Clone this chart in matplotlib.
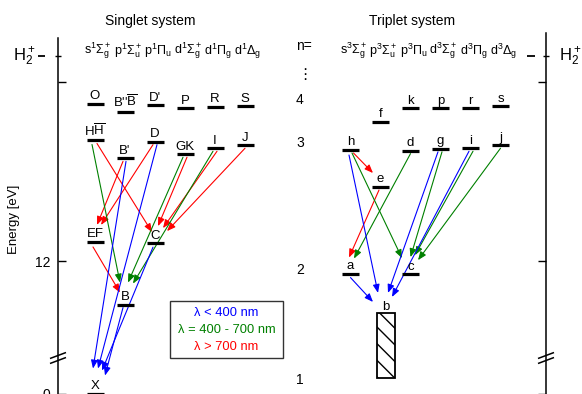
import numpy as np
import matplotlib
matplotlib.use("Agg")
import matplotlib.pyplot as plt
from matplotlib.patches import Rectangle
from matplotlib.transforms import IdentityTransform
from matplotlib.ticker import NullFormatter

plt.rcParams['font.family'] = ['Liberation Sans', 'DejaVu Sans']
plt.rcParams['mathtext.fontset'] = 'custom'
plt.rcParams['mathtext.rm'] = 'Liberation Sans'
plt.rcParams['mathtext.it'] = 'Liberation Sans:italic'
plt.rcParams['mathtext.bf'] = 'Liberation Sans:bold'
plt.rcParams['mathtext.sf'] = 'Liberation Sans'
plt.rcParams['mathtext.default'] = 'regular'

# ---------------- data ----------------
singlet_symmetries = [r'$s^1\Sigma_g^+$', r'$p^1\Sigma_u^+$', r'$p^1\Pi_u$',
                      r'$d^1\Sigma_g^+$', r'$d^1\Pi_g$', r'$d^1\Delta_g$']
triplet_symmetries = [r'$s^3\Sigma_g^+$', r'$p^3\Sigma_u^+$', r'$p^3\Pi_u$',
                      r'$d^3\Sigma_g^+$', r'$d^3\Pi_g$', r'$d^3\Delta_g$']

singlet_states = ['X', 'B', 'EF', 'C', 'HH', "B'", 'D', 'GK', 'I', 'J',
                  'O', 'B"B', "D'", 'P', 'R', 'S']
singlet_labels = ['X', 'B', 'EF', 'C', r'H$\overline{H}$', "B'", 'D', 'GK', 'I', 'J',
                  'O', r"B''$\overline{B}$", "D'", 'P', 'R', 'S']
singlet_column = [0, 1, 0, 2, 0, 1, 2, 3, 4, 5, 0, 1, 2, 3, 4, 5]
singlet_energy = [0.0, 11.27, 12.32, 12.30, 14.02, 13.72, 14.00, 13.79, 13.89, 13.94,
                  14.63, 14.50, 14.61, 14.56, 14.58, 14.59]

triplet_states = ['a', 'c', 'e', 'h', 'd', 'g', 'i', 'j', 'f', 'k', 'p', 'r', 's']
triplet_column = [0, 2, 1, 0, 2, 3, 4, 5, 1, 2, 3, 4, 5]
triplet_energy = [11.79, 11.78, 13.24, 13.86, 13.85, 13.88, 13.89, 13.94,
                  14.33, 14.56, 14.56, 14.56, 14.59]

b_continuum_low = 4.48     # repulsive b state: dissociation limit
b_continuum_high = 11.13

ionization_energy = 15.43
energy_ticks = [0, 12, 15]
energy_ticklabels = ['0', '12', '']

# (upper, lower, band)
singlet_transitions = [
    ('HH', 'C', 'ir'), ("B'", 'EF', 'ir'), ('D', 'EF', 'ir'), ('GK', 'C', 'ir'),
    ('I', 'C', 'ir'), ('J', 'C', 'ir'), ('EF', 'B', 'ir'),
    ('HH', 'B', 'vis'), ('GK', 'B', 'vis'), ('I', 'B', 'vis'),
    ("B'", 'X', 'uv'), ('D', 'X', 'uv'), ('C', 'X', 'uv'), ('B', 'X', 'uv'),
]
triplet_transitions = [
    ('h', 'e', 'ir'), ('e', 'a', 'ir'),
    ('h', 'c', 'vis'), ('d', 'a', 'vis'), ('g', 'c', 'vis'), ('i', 'c', 'vis'), ('j', 'c', 'vis'),
    ('h', 'b', 'uv'), ('g', 'b', 'uv'), ('i', 'b', 'uv'), ('a', 'b', 'uv'),
]

band_colors = {'uv': '#0000ff', 'vis': '#008000', 'ir': '#ff0000'}
legend_labels = ['λ < 400 nm', 'λ = 400 - 700 nm', 'λ > 700 nm']
legend_bands = ['uv', 'vis', 'ir']
n_labels = ['n=', '⋮', '4', '3', '2', '1']

# ---------------- layout (pixels) ----------------
W, H = 582, 394
COL0_S, COL0_T, COL_STEP, BAR_HALF = 95.0, 350.5, 30.0, 8.5
B_X, B_HALF = 386.0, 9.0
# arrow end offsets: (dx start, dy below upper bar, dx end, dy above lower level)
singlet_offsets = [
    (2, 3, -3, 11), (-2, 3, 2, 17), (-2, 3, 6, 17), (2, 3, 3, 17),
    (2, 3, 8, 15), (0, 3, 12, 12), (-2, 5, -5, 12),
    (-3, 4, -5, 22), (-2, 3, 3, 22), (-2, 3, 8, 21),
    (1, 3, -2, 25), (2, 3, 3, 25), (-2, 4, 7, 23), (-2, 3, 10, 18),
]
triplet_offsets = [
    (3, 3, -7.5, 14), (-1.5, 3, -1.5, 16),
    (1.5, 3, -8.5, 16), (0, 3, 3.5, 15), (1.5, 3, 0, 17), (2.5, 3, 4.5, 19), (0, 3, 7.5, 14),
    (-1.5, 5, -8, 20), (-2.5, 3, 2, 20), (-1.5, 3, 6, 16), (0, 4, -13, 11),
]

# broken energy axis
E_BREAK, E0_POS = 10.39, 9.779


def fwd(E):
    E = np.asarray(E, dtype=float)
    return np.where(E >= E_BREAK, E, E0_POS + E * (E_BREAK - E0_POS) / E_BREAK)


def inv(D):
    D = np.asarray(D, dtype=float)
    return np.where(D >= E_BREAK, D, (D - E0_POS) * E_BREAK / (E_BREAK - E0_POS))


fig = plt.figure(figsize=(W / 100, H / 100), dpi=100)
ax = fig.add_axes([0, 0, 1, 1])
ax.set_xlim(0, W)
ax.set_yscale('function', functions=(fwd, inv))
ax.set_ylim(-0.12, 16.374)
PX = IdentityTransform()

for sp in ['top', 'bottom']:
    ax.spines[sp].set_visible(False)
ax.xaxis.set_visible(False)
ax.spines['left'].set_position(('data', 58))
ax.spines['right'].set_position(('data', 546))
ax.spines['left'].set_bounds(-0.12, 15.74)
ax.spines['right'].set_bounds(-0.12, 15.82)
for sp in ['left', 'right']:
    ax.spines[sp].set_linewidth(1.1)
ax.set_yticks(energy_ticks, energy_ticklabels)
ax.set_yticks([ionization_energy], minor=True)
ax.yaxis.set_minor_formatter(NullFormatter())
ax.tick_params(axis='y', which='major', direction='in', length=5.5, width=1,
               left=True, right=True, labelleft=True, labelright=False, labelsize=10, pad=5.5)
ax.tick_params(axis='y', which='minor', direction='inout', length=5, width=1,
               left=True, right=True)
ax.text(14, ax.transData.transform((0, 12.7))[1], 'Energy [eV]', rotation=90,
        ha='center', va='center', fontsize=9.5, transform=PX)

# ionisation limit
ax.hlines(ionization_energy, 38, 45, colors='k', lw=1.3)
ax.hlines(ionization_energy, 527, 535, colors='k', lw=1.3)
ax.text(24, ionization_energy, r'$H_2^+$', ha='center', va='center', fontsize=12)
ax.text(570, ionization_energy, r'$H_2^+$', ha='center', va='center', fontsize=12)

# axis breaks
for xb in (58, 546):
    yb = H - 358
    for dyy in (-2.5, 2.5):
        ax.plot([xb - 8, xb + 8], [yb + dyy - 3, yb + dyy + 3], color='k', lw=1.1,
                transform=PX, solid_capstyle='butt')

# titles & column headers
ax.text(150, H - 21, 'Singlet system', ha='center', va='center', fontsize=10, transform=PX)
ax.text(412.5, H - 21, 'Triplet system', ha='center', va='center', fontsize=10, transform=PX)
for i, lab in enumerate(singlet_symmetries):
    ax.text(COL0_S + COL_STEP * i + 3, H - 51, lab, ha='center', va='center', fontsize=9, transform=PX)
for i, lab in enumerate(triplet_symmetries):
    ax.text(COL0_T + COL_STEP * i + 3, H - 51, lab, ha='center', va='center', fontsize=9, transform=PX)
for lab, yy in zip(n_labels, [46, 74, 100, 143, 270, 380]):
    fam = ['DejaVu Sans'] if lab == '⋮' else None
    ax.text(296 if lab != '⋮' else 297, H - yy, lab, ha='left', va='center',
            fontsize=10 if lab != '⋮' else 11, transform=PX, family=fam)

# levels
pos_s, pos_t = {}, {}
for name, lab, col, E in zip(singlet_states, singlet_labels, singlet_column, singlet_energy):
    x = COL0_S + COL_STEP * col
    pos_s[name] = (x, E)
    ax.hlines(E, x - BAR_HALF, x + BAR_HALF, colors='k', lw=2.3, zorder=3)
    ax.annotate(lab, (x, E), xytext=(0, 3.3), textcoords='offset points',
                ha='center', va='baseline', fontsize=9.5, zorder=4)
for name, col, E in zip(triplet_states, triplet_column, triplet_energy):
    x = COL0_T + COL_STEP * col
    pos_t[name] = (x, E)
    ax.hlines(E, x - BAR_HALF, x + BAR_HALF, colors='k', lw=2.3, zorder=3)
    ax.annotate(name, (x, E), xytext=(0, 3.3), textcoords='offset points',
                ha='center', va='baseline', fontsize=9.5, zorder=4)
pos_t['b'] = (B_X, b_continuum_high)
ax.add_patch(Rectangle((B_X - B_HALF, b_continuum_low), 2 * B_HALF,
                       b_continuum_high - b_continuum_low, facecolor='white',
                       edgecolor='k', hatch='\\\\', lw=1.3, zorder=3))
ax.annotate('b', (B_X, b_continuum_high), xytext=(0, 2.2), textcoords='offset points',
            ha='center', va='baseline', fontsize=9.5, zorder=4)

# transitions
def disp(x, E):
    return ax.transData.transform((x, E))


for trans, offs, pos in ((singlet_transitions, singlet_offsets, pos_s),
                         (triplet_transitions, triplet_offsets, pos_t)):
    for (u, l, band), (dxs, dys, dxe, dye) in zip(trans, offs):
        s = disp(*pos[u]) + np.array([dxs, -dys])
        e = disp(*pos[l]) + np.array([dxe, dye])
        ax.annotate('', xy=tuple(e), xytext=tuple(s), xycoords='figure pixels',
                    textcoords='figure pixels', zorder=2,
                    arrowprops=dict(arrowstyle='-|>,head_length=0.5,head_width=0.2',
                                    mutation_scale=10, color=band_colors[band], lw=0.8,
                                    shrinkA=0, shrinkB=0))

# legend box
ax.add_patch(Rectangle((170, H - 358), 113, 57, transform=PX, fill=False,
                       edgecolor='#333333', lw=1, zorder=5))
for lab, band, yy in zip(legend_labels, legend_bands, [313, 330, 347]):
    ax.text(226.5, H - yy, lab, color=band_colors[band], ha='center', va='center',
            fontsize=9.3, transform=PX)

fig.savefig('out.png', dpi=100)
